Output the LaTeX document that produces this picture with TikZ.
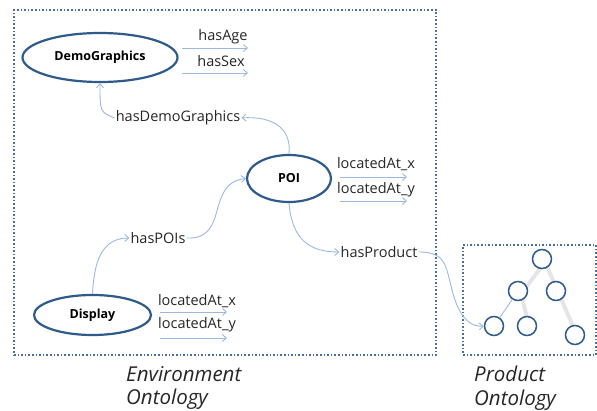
\documentclass[tikz,border=0pt]{standalone}
\usepackage{fontspec}
\setmainfont{Open Sans}
\usetikzlibrary{arrows.meta,shapes.geometric}
\definecolor{ellblue}{HTML}{2E5A8C}
\definecolor{linkblue}{HTML}{9BB9DF}
\definecolor{boxblue}{HTML}{4A6FA5}
\tikzset{
  cls/.style={ellipse, draw=ellblue, line width=2.2pt, inner sep=0pt, font=\bfseries\fontsize{12.5}{14}\selectfont},
  lbl/.style={inner sep=1pt, font=\fontsize{14.5}{16}\selectfont, text=black!85},
  link/.style={draw=linkblue, line width=0.9pt, -{Straight Barb[length=4pt,width=7pt]}},
  frame/.style={draw=boxblue, line width=1.6pt, dotted},
  tnode/.style={circle, draw=ellblue, line width=1.5pt, minimum size=19pt, inner sep=0pt},
  tedge/.style={draw=black!10, line width=4pt},
  captext/.style={align=left, inner sep=0pt, font=\itshape\fontsize{20.5}{23.5}\selectfont, text=black!85}
}
\begin{document}
\begin{tikzpicture}[x=1pt,y=-1pt]
\useasboundingbox (0,0) rectangle (597,411);
% frames
\node[frame, minimum width=422pt, minimum height=345pt, inner sep=0pt] (env) at (225,182.5) {};
\node[frame, minimum width=133pt, minimum height=110pt, inner sep=0pt] (prod) at (529.5,300) {};
% classes
\node[cls, minimum width=155pt, minimum height=49pt] (demo) at (100,57.5) {DemoGraphics};
\node[cls, minimum width=84pt, minimum height=47pt] (poi) at (289,178.5) {POI};
\node[cls, minimum width=117pt, minimum height=40pt] (disp) at (92.5,315) {Display};
% labels
\node[lbl] (age) at (223,37) {hasAge};
\node[lbl] (sex) at (221,61) {hasSex};
\node[lbl] (hdg) at (178,118) {hasDemoGraphics};
\node[lbl] (pois) at (158,238) {hasPOIs};
\node[lbl] (plx) at (376,164) {locatedAt\_x};
\node[lbl] (ply) at (376,190) {locatedAt\_y};
\node[lbl] (hp) at (379,252) {hasProduct};
\node[lbl] (dlx) at (197,301) {locatedAt\_x};
\node[lbl] (dly) at (197,325) {locatedAt\_y};
% arrow coordinates
\coordinate (a1s) at (182,48); \coordinate (a1e) at (248,48);
\coordinate (a2s) at (182,73); \coordinate (a2e) at (248,73);
\coordinate (p1s) at (340,177); \coordinate (p1e) at (407,177);
\coordinate (p2s) at (340,201); \coordinate (p2e) at (407,201);
\coordinate (d1s) at (160,312); \coordinate (d1e) at (227,312);
\coordinate (d2s) at (160,338); \coordinate (d2e) at (227,338);
\draw[link] (a1s) -- (a1e);
\draw[link] (a2s) -- (a2e);
\draw[link] (p1s) -- (p1e);
\draw[link] (p2s) -- (p2e);
\draw[link] (d1s) -- (d1e);
\draw[link] (d2s) -- (d2e);
% tree
\coordinate (c1) at (542,259);
\coordinate (c2) at (518,291);
\coordinate (c3) at (556,291);
\coordinate (c4) at (494,326);
\coordinate (c5) at (527,326);
\coordinate (c6) at (575,335);
\draw[tedge] ([shift={(3,3)}]c1) -- ([shift={(3,3)}]c2);
\draw[tedge] ([shift={(3,3)}]c1) -- ([shift={(3,3)}]c3);
\draw[tedge] ([shift={(3,3)}]c2) -- ([shift={(3,3)}]c5);
\draw[tedge] ([shift={(3,3)}]c3) -- ([shift={(3,3)}]c6);
\node[tnode, fill=white] (t1) at (c1) {};
\node[tnode, fill=white] (t2) at (c2) {};
\node[tnode, fill=white] (t3) at (c3) {};
\node[tnode, fill=white] (t4) at (c4) {};
\node[tnode, fill=white] (t5) at (c5) {};
\node[tnode, fill=white] (t6) at (c6) {};
\draw[draw=linkblue, line width=0.9pt] (t2) -- (t4);
% curved connectors
\draw[link] (hdg.west) .. controls (100,112) .. (demo.south);
\draw[link] (poi.north) .. controls (292,125) and (268,116) .. (hdg.east);
\draw[link] (disp.north) .. controls (94,265) and (100,238) .. (pois.west);
\draw[link] (pois.east) .. controls (230,240) and (205,183) .. (poi.west);
\draw[link] (poi.south) .. controls (292,240) and (310,252) .. (hp.west);
\draw[link] (hp.east) .. controls (450,252) and (445,270) .. (455,300) .. controls (462,320) and (472,327) .. (t4.west);
% captions
\node[captext, anchor=north west] (envcap) at (126,366) {Environment\\Ontology};
\node[captext, anchor=north west] (prodcap) at (474,366) {Product\\Ontology};
\end{tikzpicture}
\end{document}
